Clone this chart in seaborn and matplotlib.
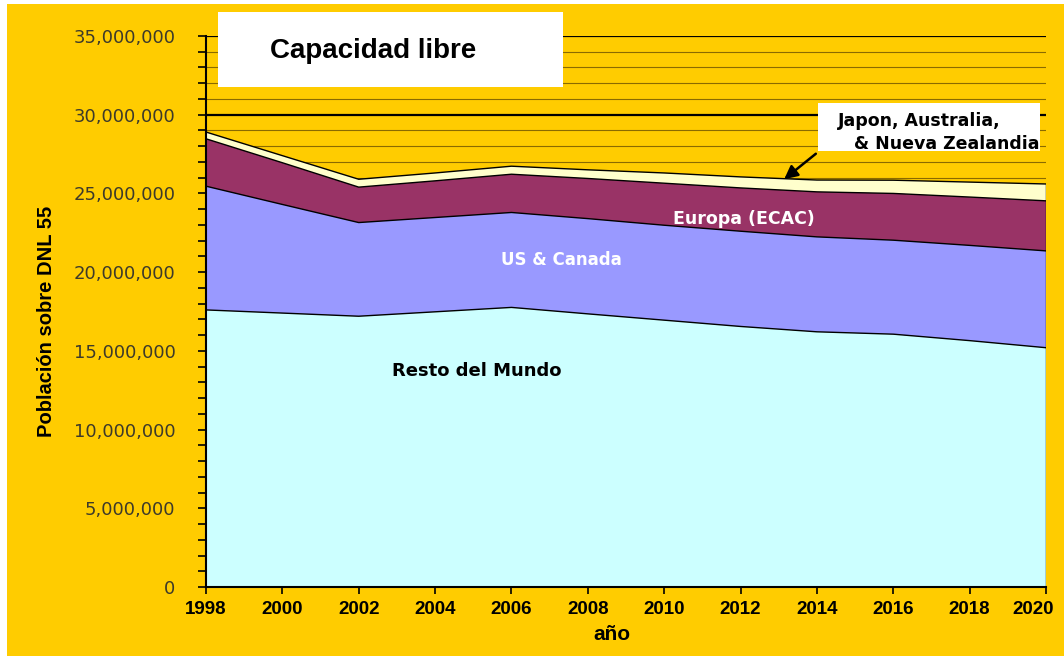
import matplotlib
matplotlib.use("Agg")
import matplotlib.pyplot as plt
from matplotlib.patches import Rectangle
from matplotlib.ticker import MultipleLocator, FuncFormatter
from matplotlib.transforms import ScaledTranslation
import seaborn as sns
import pandas as pd

# ---- data (millions of people) ----
years = [1998, 2000, 2002, 2004, 2006, 2008, 2010, 2012, 2014, 2016, 2018, 2020]
resto_mundo = [17.60, 17.40, 17.20, 17.48, 17.76, 17.35, 16.95, 16.55, 16.21, 16.06, 15.65, 15.20]
us_canada   = [7.86, 6.90, 5.95, 5.99, 6.03, 6.05, 6.03, 6.05, 6.03, 5.97, 6.05, 6.15]
europa_ecac = [3.01, 2.65, 2.25, 2.33, 2.43, 2.55, 2.67, 2.75, 2.86, 2.97, 3.07, 3.18]
japon_aus_nz = [0.43, 0.45, 0.50, 0.50, 0.51, 0.55, 0.65, 0.70, 0.75, 0.84, 0.95, 1.07]

series_names = ["Resto del Mundo", "US & Canada", "Europa (ECAC)", "Japon, Australia, & Nueva Zealandia"]
series_colors = ["#CCFFFF", "#9999FF", "#993366", "#FFFFCC"]

df = pd.DataFrame({"year": years,
                   series_names[0]: [v * 1e6 for v in resto_mundo],
                   series_names[1]: [v * 1e6 for v in us_canada],
                   series_names[2]: [v * 1e6 for v in europa_ecac],
                   series_names[3]: [v * 1e6 for v in japon_aus_nz]})

GOLD = "#FFCC00"
sns.set_style("ticks")
plt.rcParams["font.family"] = ["DejaVu Sans"]
plt.rcParams["text.color"] = "black"
NARROW = ["Liberation Sans", "DejaVu Sans"]

fig = plt.figure(figsize=(10.64, 6.56), dpi=100, facecolor="white")
fig.patches.append(Rectangle((7 / 1064, 0), 1, 1 - 4 / 656, transform=fig.transFigure,
                             facecolor=GOLD, edgecolor="none", zorder=-10))
ax = fig.add_axes([206 / 1064, 1 - 587 / 656, (1046 - 206) / 1064, (587 - 36) / 656])
ax.set_facecolor(GOLD)

# grid
ax.set_ylim(0, 35e6)
ax.set_xlim(1998, 2020)
ax.yaxis.set_major_locator(MultipleLocator(5e6))
ax.yaxis.set_minor_locator(MultipleLocator(1e6))
ax.grid(False)
ax.set_axisbelow(True)
ax.yaxis.grid(True, which="major", color="black", lw=1.6, zorder=0)
ax.yaxis.grid(True, which="minor", color="#8a6a00", lw=0.8, zorder=0)

# stacked areas
base = pd.Series([0.0] * len(years))
for name, col in zip(series_names, series_colors):
    top = base + df[name]
    ax.fill_between(df["year"], base, top, facecolor=col, edgecolor="none", zorder=2)
    sns.lineplot(x=df["year"], y=top, ax=ax, color="black", lw=1.0, zorder=3, legend=False)
    base = top
ax.plot([2020, 2020], [0, base.iloc[-1]], color="black", lw=1.0, zorder=3)

# axes styling
for s in ["top", "right"]:
    ax.spines[s].set_visible(False)
for s in ["left", "bottom"]:
    ax.spines[s].set_color("black")
    ax.spines[s].set_linewidth(1.5)
    ax.spines[s].set_zorder(5)
ax.tick_params(axis="y", which="both", direction="out", length=6, width=1.2, color="black",
               labelsize=13, labelcolor="#3d3a2a", pad=16)
ax.tick_params(axis="x", which="major", direction="out", length=5, width=1.2, color="black",
               pad=5)
ax.yaxis.set_major_formatter(FuncFormatter(lambda v, p: f"{int(v):,}"))
ax.set_xticks(years)
ax.set_xticklabels([str(y) for y in years], family=NARROW, fontweight="bold", fontsize=13.5,
                   color="black")
last = ax.get_xticklabels()[-1]
last.set_transform(last.get_transform() + ScaledTranslation(-9 / 72, 0, fig.dpi_scale_trans))
ax.set_xlabel("")
ax.set_ylabel("")
fig.text(612 / 1064, 1 - 634 / 656, "año", family=NARROW, fontweight="bold", fontsize=15,
         ha="center", va="center")
fig.text(47 / 1064, 1 - 321 / 656, "Población sobre DNL 55", family=NARROW, fontweight="bold",
         fontsize=14.5, ha="center", va="center", rotation=90)

# title box
fig.patches.append(Rectangle((218 / 1064, 1 - 87 / 656), (563 - 218) / 1064, (87 - 12) / 656,
                             transform=fig.transFigure, facecolor="white", edgecolor="none", zorder=5))
fig.text(270 / 1064, 1 - 51 / 656, "Capacidad libre", family=NARROW,
         fontweight="bold", fontsize=20, ha="left", va="center", zorder=6)

# Japon annotation box
fig.patches.append(Rectangle((818 / 1064, 1 - 151 / 656), (1040 - 818) / 1064, (151 - 103) / 656,
                             transform=fig.transFigure, facecolor="white", edgecolor="none", zorder=5))
fig.text(838 / 1064, 1 - 121 / 656, "Japon, Australia,", fontweight="bold", fontsize=12.5,
         ha="left", va="center", zorder=6)
fig.text(854 / 1064, 1 - 144 / 656, "& Nueva Zealandia", fontweight="bold", fontsize=12.5,
         ha="left", va="center", zorder=6)
ax.annotate("", xy=(782, 656 - 181), xycoords="figure pixels",
            xytext=(818, 656 - 152), textcoords="figure pixels",
            arrowprops=dict(arrowstyle="-|>", color="black", lw=1.8, mutation_scale=20),
            annotation_clip=False)

# area labels
ax.text(2007.3, 20.75e6, "US & Canada", color="white", fontweight="bold", fontsize=12,
        ha="center", va="center", zorder=6)
ax.text(2012.1, 23.35e6, "Europa (ECAC)", color="white", fontweight="bold", fontsize=12.5,
        ha="center", va="center", zorder=6)
ax.text(2005.1, 13.7e6, "Resto del Mundo", color="black", fontweight="bold", fontsize=13,
        ha="center", va="center", zorder=6)

fig.savefig("out.png", dpi=100, facecolor=fig.get_facecolor())
